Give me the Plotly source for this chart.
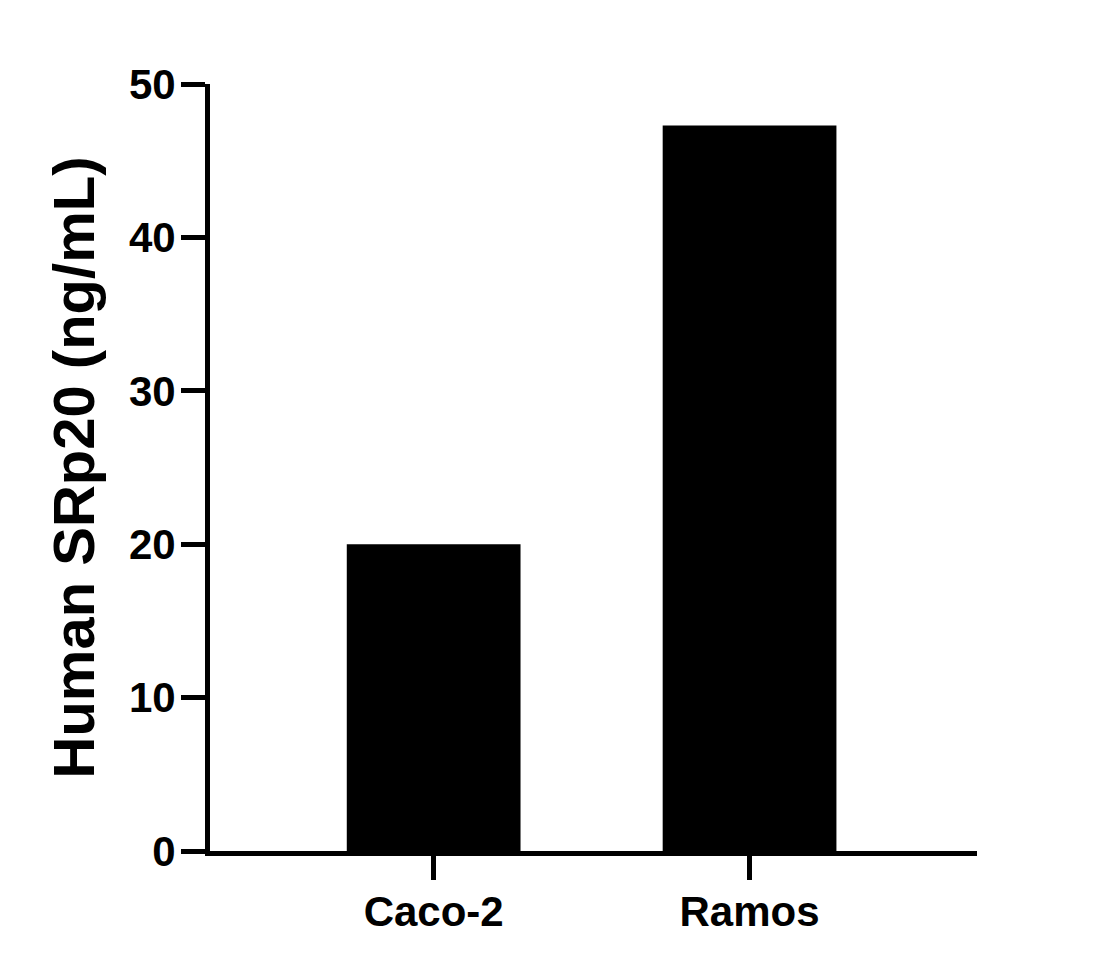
import plotly.graph_objects as go

categories = ["Caco-2", "Ramos"]
values = [20.0, 47.3]
y_ticks = [0, 10, 20, 30, 40, 50]
y_title = "Human SRp20 (ng/mL)"

FONT = "Liberation Sans"

fig = go.Figure(
    go.Bar(
        x=categories,
        y=values,
        width=0.55,
        marker=dict(color="black", line=dict(width=0)),
    )
)

fig.update_layout(
    width=1113,
    height=968,
    paper_bgcolor="white",
    plot_bgcolor="white",
    margin=dict(l=202, r=144, t=76, b=125),
    showlegend=False,
    font=dict(family=FONT, color="black"),
)

fig.update_xaxes(
    range=[-0.708, 1.72],
    showline=True,
    linewidth=5,
    linecolor="black",
    ticks="outside",
    ticklen=24,
    tickwidth=5,
    tickcolor="black",
    tickfont=dict(family=FONT, size=42, color="black", weight="bold"),
    ticklabelstandoff=-4,
    showgrid=False,
    zeroline=False,
)

fig.update_yaxes(
    range=[0, 50],
    tickvals=y_ticks,
    showline=True,
    linewidth=5,
    linecolor="black",
    ticks="outside",
    ticklen=24,
    tickwidth=5,
    tickcolor="black",
    tickfont=dict(family=FONT, size=42, color="black", weight="bold"),
    ticklabelstandoff=-3,
    showgrid=False,
    zeroline=False,
    title=dict(text=y_title, font=dict(family=FONT, size=58, color="black", weight="bold"), standoff=17),
)

fig.write_html("out.html")
